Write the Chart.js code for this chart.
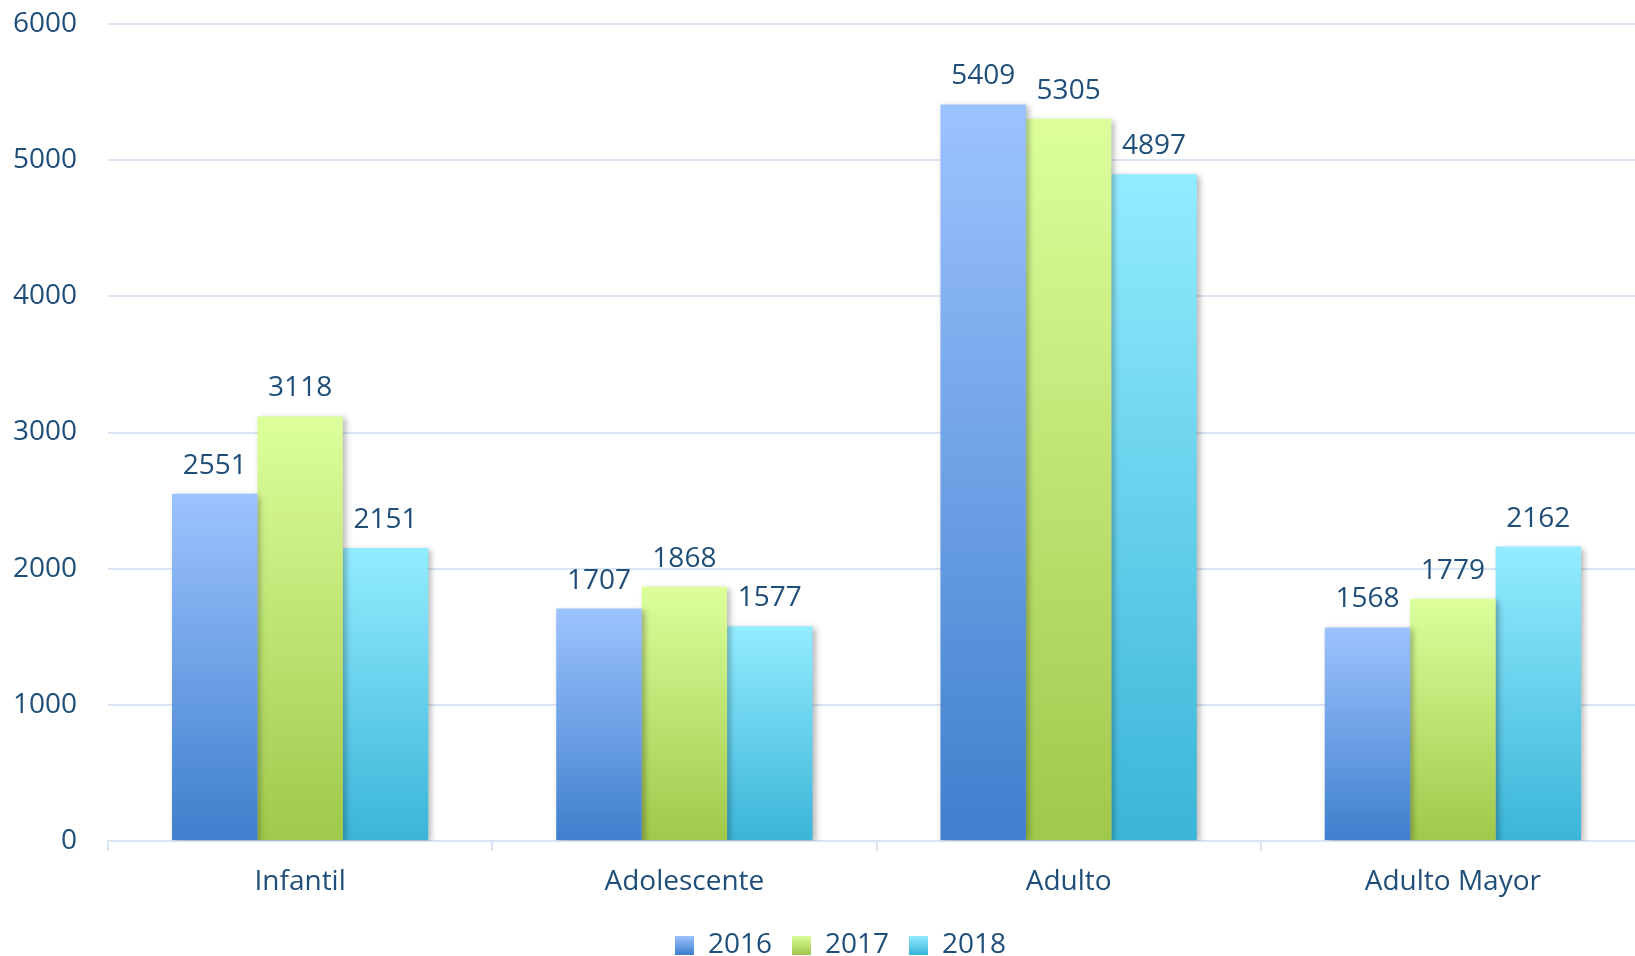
<!DOCTYPE html>
<html>
<head>
<meta charset="utf-8">
<script src="https://cdn.jsdelivr.net/npm/chart.js@4.4.0/dist/chart.umd.min.js"></script>
<style>
html, body { margin: 0; padding: 0; background: #fff; overflow: hidden; }
#wrap { width: 1645px; height: 956px; }
</style>
</head>
<body>
<div id="wrap"><canvas id="chart" width="1645" height="956"></canvas></div>
<script>
const categories = ['Infantil', 'Adolescente', 'Adulto', 'Adulto Mayor'];
const years = ['2016', '2017', '2018'];
const values2016 = [2551, 1707, 5409, 1568];
const values2017 = [3118, 1868, 5305, 1779];
const values2018 = [2151, 1577, 4897, 2162];
const yTickValues = [0, 1000, 2000, 3000, 4000, 5000, 6000];

const textColor = '#1F4E79';
const gridColor = '#D9E5F5';
const fontFamily = '"Open Sans", "Noto Sans", sans-serif';

// top / bottom colours of each series gradient
const seriesColors = [
    ['#9DC3FF', '#3F7FCD'],
    ['#DCFF9C', '#A0C84A'],
    ['#93ECFF', '#3AB5D8']
];

function barGradient(ctx, idx) {
    const chart = ctx.chart;
    const yScale = chart.scales.y;
    if (!yScale || ctx.type !== 'data') return seriesColors[idx][1];
    const top = yScale.getPixelForValue(ctx.raw);
    const bottom = yScale.getPixelForValue(0);
    if (!isFinite(top) || top === bottom) return seriesColors[idx][1];
    const g = chart.ctx.createLinearGradient(0, top, 0, bottom);
    g.addColorStop(0, seriesColors[idx][0]);
    g.addColorStop(1, seriesColors[idx][1]);
    return g;
}

// little gradient squares for the legend
function legendBox(idx) {
    const c = document.createElement('canvas');
    c.width = 19; c.height = 19;
    const x = c.getContext('2d');
    const g = x.createLinearGradient(0, 0, 0, 19);
    g.addColorStop(0, seriesColors[idx][0]);
    g.addColorStop(1, seriesColors[idx][1]);
    x.fillStyle = g;
    x.fillRect(0, 0, 19, 19);
    return c;
}
const legendBoxes = years.map((y, i) => legendBox(i));

const barShadow = {
    id: 'barShadow',
    afterLayout(chart) {
        // legend sits a bit right of the canvas centre in the original
        chart.legend.left += 36;
    },
    beforeDatasetsDraw(chart) {
        const ctx = chart.ctx;
        ctx.save();
        ctx.shadowColor = 'rgba(0,0,0,0.28)';
        ctx.shadowBlur = 6;
        ctx.shadowOffsetX = 3;
        ctx.shadowOffsetY = 2;
    },
    afterDatasetsDraw(chart) {
        chart.ctx.restore();
    }
};

const valueLabels = {
    id: 'valueLabels',
    afterDatasetsDraw(chart) {
        const ctx = chart.ctx;
        ctx.save();
        ctx.font = '28px ' + fontFamily;
        ctx.fillStyle = textColor;
        ctx.textAlign = 'center';
        ctx.textBaseline = 'alphabetic';
        chart.data.datasets.forEach((ds, i) => {
            chart.getDatasetMeta(i).data.forEach((bar, j) => {
                ctx.fillText(String(ds.data[j]), bar.x, bar.y - 20);
            });
        });
        ctx.restore();
    }
};

const allValues = [values2016, values2017, values2018];

new Chart(document.getElementById('chart'), {
    type: 'bar',
    data: {
        labels: categories,
        datasets: years.map((y, i) => ({
            label: y,
            data: allValues[i],
            backgroundColor: (ctx) => barGradient(ctx, i),
            borderWidth: 0,
            categoryPercentage: 0.667,
            barPercentage: 1.0
        }))
    },
    options: {
        responsive: false,
        animation: false,
        layout: { padding: { top: 24, right: 0, left: 0, bottom: -13 } },
        scales: {
            y: {
                min: 0,
                max: 6000,
                afterFit(scale) { scale.width = 108; },
                afterBuildTicks(scale) { scale.ticks = yTickValues.map(v => ({ value: v })); },
                border: { display: false },
                grid: { color: gridColor, lineWidth: 2, drawTicks: true, tickLength: 31, tickColor: 'rgba(0,0,0,0)' },
                ticks: {
                    padding: 0,
                    color: textColor,
                    font: { family: fontFamily, size: 28 },
                    callback: (v) => String(v)
                }
            },
            x: {
                afterFit(scale) { scale.height = 70; },
                border: { color: gridColor, width: 2 },
                grid: {
                    offset: true,
                    drawOnChartArea: false,
                    color: gridColor,
                    lineWidth: 2,
                    tickLength: 10
                },
                ticks: {
                    padding: 14,
                    color: textColor,
                    font: { family: fontFamily, size: 28 }
                }
            }
        },
        plugins: {
            legend: {
                position: 'bottom',
                labels: {
                    color: textColor,
                    font: { family: fontFamily, size: 28 },
                    usePointStyle: true,
                    boxWidth: 19,
                    boxHeight: 19,
                    padding: 20,
                    generateLabels(chart) {
                        return chart.data.datasets.map((ds, i) => ({
                            text: ds.label,
                            pointStyle: legendBoxes[i],
                            fontColor: textColor,
                            hidden: false,
                            lineWidth: 0,
                            datasetIndex: i
                        }));
                    }
                }
            },
            tooltip: { enabled: false }
        }
    },
    plugins: [barShadow, valueLabels]
});
</script>
</body>
</html>
